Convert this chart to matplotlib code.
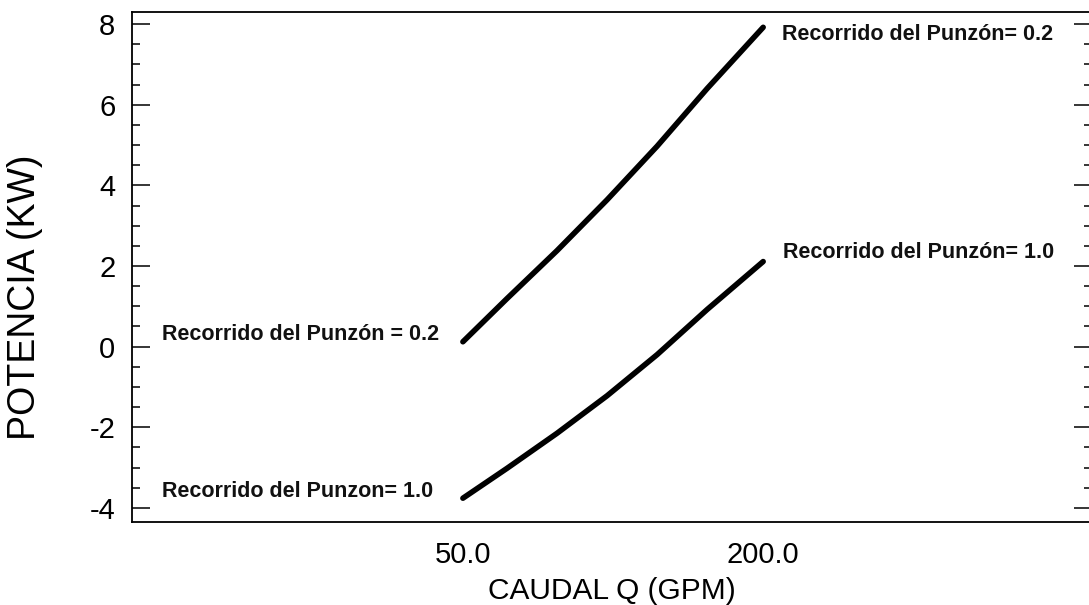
import matplotlib
matplotlib.use('Agg')
import matplotlib.pyplot as plt
from matplotlib.ticker import MultipleLocator, FixedLocator

# caudal (GPM) and potencia (KW) for each punch stroke
caudal = [50, 72, 97, 122, 147, 172, 200]
potencia_02 = [0.12, 1.19, 2.38, 3.64, 4.97, 6.40, 7.92]
potencia_10 = [-3.76, -3.02, -2.15, -1.22, -0.20, 0.92, 2.11]

xtick_vals = [50, 200]
xtick_labels = ['50.0', '200.0']

plt.rcParams['font.family'] = ['Liberation Sans', 'DejaVu Sans']
plt.rcParams['axes.unicode_minus'] = False

fig = plt.figure(figsize=(10.89, 6.05), dpi=100)
ax = fig.add_axes([0.1212, 0.1372, 0.882, 0.843])

line_kw = dict(color='black', linewidth=4.0, solid_capstyle='round', solid_joinstyle='round')
ax.plot(caudal, potencia_02, **line_kw)
ax.plot(caudal, potencia_10, **line_kw)

ax.set_xlim(-115.3, 364.5)
ax.set_ylim(-4.35, 8.30)

# curve labels
lab = dict(fontsize=15.5, fontweight='bold', color='#111111', va='baseline', ha='left')
ax.text(209.6, 7.60, 'Recorrido del Punzón= 0.2', **lab)
ax.text(210.0, 2.20, 'Recorrido del Punzón= 1.0', **lab)
ax.text(-100.4, 0.17, 'Recorrido del Punzón = 0.2', **lab)
ax.text(-100.4, -3.73, 'Recorrido del Punzon= 1.0', **lab)

# axes
ax.xaxis.set_major_locator(FixedLocator(xtick_vals))
ax.set_xticklabels(xtick_labels, fontsize=21)
ax.tick_params(axis='x', length=0, pad=14)

ax.yaxis.set_major_locator(MultipleLocator(2))
ax.yaxis.set_minor_locator(MultipleLocator(0.5))
ax.tick_params(axis='y', which='both', direction='in', left=True, right=True,
               width=1.1, labelsize=21, pad=12)
ax.tick_params(axis='y', which='major', length=13)
ax.tick_params(axis='y', which='minor', length=6)

for s in ax.spines.values():
    s.set_linewidth(1.3)

ax.set_ylabel('POTENCIA (KW)', fontsize=27)
ax.yaxis.set_label_coords(-0.0927, 0.441)
ax.set_xlabel('CAUDAL Q (GPM)', fontsize=21.5, va='top')
ax.xaxis.set_label_coords(0.5, -0.108)

fig.savefig('out.png', dpi=100)
